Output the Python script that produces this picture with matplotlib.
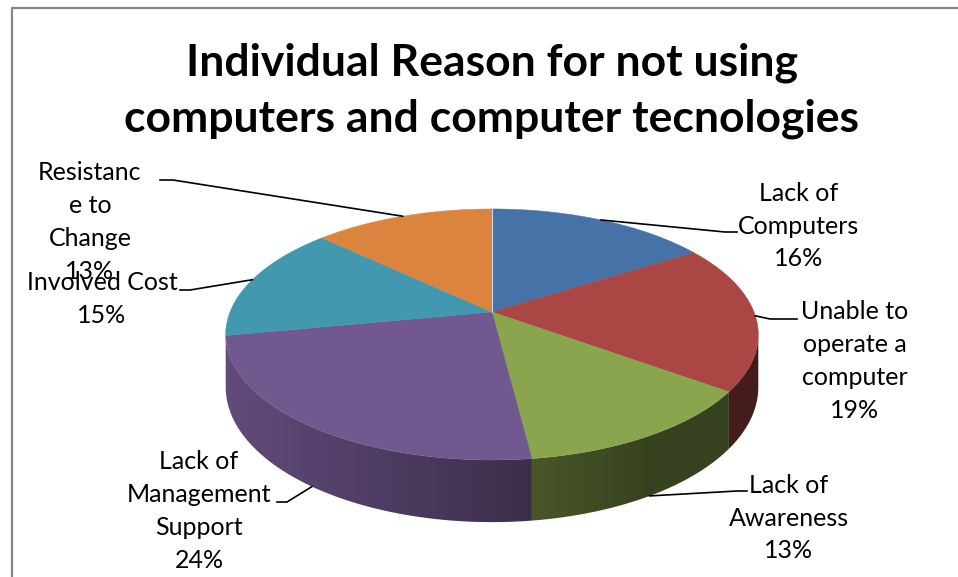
import numpy as np
import matplotlib.pyplot as plt
from matplotlib.patches import Polygon
from matplotlib.lines import Line2D
from matplotlib.colors import to_rgb

# slice data, clockwise from 12 o'clock
labels = ['Lack of\nComputers', 'Unable to\noperate a\ncomputer', 'Lack of\nAwareness',
          'Lack of\nManagement\nSupport', 'Involved Cost', 'Resistanc\ne to\nChange']
shares = [16, 19, 13, 24, 15, 13]
colors = ['#4572A7', '#AA4643', '#89A54E', '#71588F', '#4198AF', '#DB843D']
title = 'Individual Reason for not using\ncomputers and computer tecnologies'

# label layout: text centre, elbow, line end next to text (pixels)
label_pos = [(799, 226), (855, 361), (789, 518), (199, 511), (102, 299), (90, 222)]
label_elbow = [(725, 232), (770, 319), (737, 491), (287, 502), (190, 290), (173, 180)]
label_end = [(737, 232), (797, 319), (747, 491), (277, 502), (180, 290), (160, 180)]

W, H = 958, 577
fig = plt.figure(figsize=(W / 100, H / 100), dpi=100)
ax = fig.add_axes([0, 0, 1, 1])
ax.set_xlim(0, W)
ax.set_ylim(H, 0)
ax.axis('off')

# chart area border (top and left only)
ax.add_line(Line2D([12, 12, W], [H, 8, 8], color='#868686', lw=1.6))

# perspective projection of the pie disc
cx, cy = 492, 312
rx, ry, k = 262, 121.5, 0.179
depth = 51


def rim(phi):
    u, v = np.sin(phi), -np.cos(phi)
    d = 1 - k * v
    return cx + rx * u / d, cy + ry * v / d


def drop(phi):
    return depth / (1 + k * np.cos(phi))


fr = np.array(shares) / np.sum(shares)
edges = np.concatenate([[0], np.cumsum(fr)]) * 2 * np.pi

# only the front part of the side wall is visible (between the two silhouette points)
vis0, vis1 = np.arccos(-k), 2 * np.pi - np.arccos(-k)

# outer side wall: one polygon per slice, filled with a left-to-right gradient
xs_grad = np.linspace(cx - rx - 10, cx + rx + 10, 400)
u_grad = (xs_grad - cx) / rx
f_grad = np.clip(0.57 - 0.28 * u_grad, 0.40, 1.0)
for i in range(len(shares)):
    a0, a1 = max(edges[i], vis0), min(edges[i + 1], vis1)
    if a1 <= a0:
        continue
    ph = np.linspace(a0, a1, 150)
    tx, ty = rim(ph)
    by = ty + drop(ph)
    pts = list(zip(tx, ty)) + list(zip(tx[::-1], by[::-1]))
    poly = Polygon(pts, closed=True, facecolor='none', edgecolor='none', zorder=2)
    ax.add_patch(poly)
    rgb = np.array(to_rgb(colors[i]))
    img = (f_grad[:, None] * rgb[None, :])[None, :, :]
    im = ax.imshow(img, extent=(xs_grad[0], xs_grad[-1], by.max() + 2, ty.min() - 2),
                   aspect='auto', interpolation='bilinear', zorder=2)
    im.set_clip_path(poly)

# top face
for i in range(len(shares)):
    ph = np.linspace(edges[i], edges[i + 1], 120)
    xs, ys = rim(ph)
    pts = [(cx, cy)] + list(zip(xs, ys))
    ax.add_patch(Polygon(pts, closed=True, facecolor=colors[i], edgecolor=colors[i],
                         lw=0.3, zorder=3))
ax.plot([cx, cx], [cy, rim(0.0)[1]], color='#c9d6e8', lw=0.8, zorder=4)
ax.set_xlim(0, W)
ax.set_ylim(H, 0)

# data labels with leader lines
for i in range(len(shares)):
    mid = (edges[i] + edges[i + 1]) / 2
    axp, ayp = rim(mid)
    if -np.cos(mid) > 0.5:
        ayp += drop(mid)
    ex, ey = label_elbow[i]
    tx, ty = label_end[i]
    ax.plot([axp, ex, tx], [ayp, ey, ty], color='black', lw=1.2, zorder=5)
    ax.text(label_pos[i][0], label_pos[i][1], f'{labels[i]}\n{shares[i]}%',
            ha='center', va='center', fontsize=18, family='Lato',
            linespacing=1.52, zorder=6)

ax.text(492, 91, title, ha='center', va='center', fontsize=32, family='Lato',
        fontweight='bold', linespacing=1.48)

fig.savefig('out.png', dpi=100)
